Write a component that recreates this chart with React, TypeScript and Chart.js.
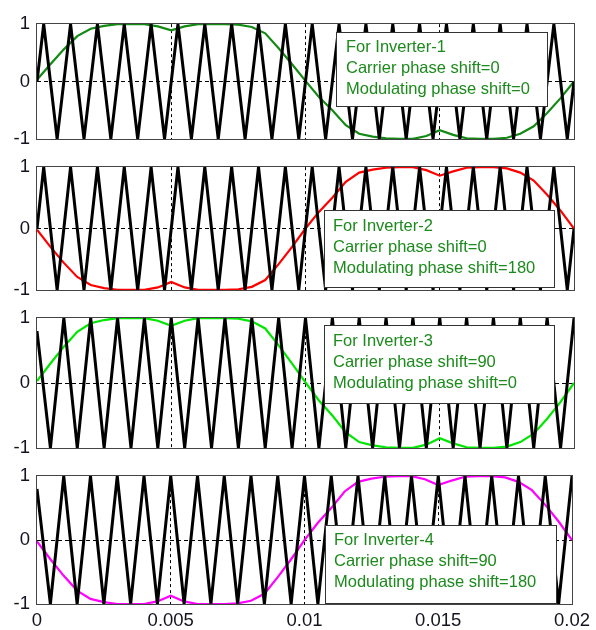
import React, { useEffect, useRef } from 'react';
import { Chart, registerables } from 'chart.js';

Chart.register(...registerables);

// ---------- data ----------
const modTimes = [
  0, 0.0005, 0.001, 0.0015, 0.002, 0.0025, 0.003, 0.0035, 0.004, 0.0045,
  0.005, 0.0055, 0.006, 0.0065, 0.007, 0.0075, 0.008, 0.0085, 0.009, 0.0095,
  0.01, 0.0105, 0.011, 0.0115, 0.012, 0.0125, 0.013, 0.0135, 0.014, 0.0145,
  0.015, 0.0155, 0.016, 0.0165, 0.017, 0.0175, 0.018, 0.0185, 0.019, 0.0195,
  0.02,
];

// modulating phase shift = 0
const modInverter1 = [
  0.03, 0.3, 0.56, 0.79, 0.92, 0.97, 1, 1, 1, 0.96,
  0.89, 0.96, 1, 1, 1, 0.99, 0.95, 0.84, 0.58, 0.3,
  0.01, -0.27, -0.5, -0.76, -0.91, -0.96, -0.99, -1, -1, -0.95,
  -0.85, -0.93, -0.99, -1, -1, -0.98, -0.91, -0.78, -0.55, -0.29,
  0,
];
// modulating phase shift = 180
const modInverter2 = [
  -0.02, -0.3, -0.56, -0.79, -0.92, -0.97, -1, -1, -1, -0.96,
  -0.87, -0.96, -1, -1, -1, -0.99, -0.95, -0.84, -0.58, -0.3,
  0, 0.27, 0.5, 0.76, 0.91, 0.96, 0.99, 1, 1, 0.95,
  0.86, 0.93, 0.99, 1, 1, 0.98, 0.91, 0.78, 0.55, 0.29,
  0,
];
const modInverter3 = [
  0.03, 0.3, 0.56, 0.79, 0.92, 0.97, 1, 1, 1, 0.96,
  0.88, 0.96, 1, 1, 1, 0.99, 0.95, 0.84, 0.58, 0.3,
  0.01, -0.27, -0.5, -0.76, -0.91, -0.96, -0.99, -1, -1, -0.95,
  -0.85, -0.93, -0.99, -1, -1, -0.98, -0.91, -0.78, -0.55, -0.29,
  0,
];
const modInverter4 = [
  -0.02, -0.3, -0.56, -0.79, -0.92, -0.97, -1, -1, -1, -0.96,
  -0.87, -0.96, -1, -1, -1, -0.99, -0.95, -0.84, -0.58, -0.3,
  0, 0.27, 0.5, 0.76, 0.91, 0.96, 0.99, 1, 1, 0.95,
  0.86, 0.93, 0.99, 1, 1, 0.98, 0.91, 0.78, 0.55, 0.29,
  0,
];

// carrier phase shift = 0 (triangle vertices)
const carrierTimesA = [
  0, 0.00025, 0.00075, 0.00125, 0.00175, 0.00225, 0.00275, 0.00325, 0.00375, 0.00425,
  0.00475, 0.00525, 0.00575, 0.00625, 0.00675, 0.00725, 0.00775, 0.00825, 0.00875, 0.00925,
  0.00975, 0.01025, 0.01075, 0.01125, 0.01175, 0.01225, 0.01275, 0.01325, 0.01375, 0.01425,
  0.01475, 0.01525, 0.01575, 0.01625, 0.01675, 0.01725, 0.01775, 0.01825, 0.01875, 0.01925,
  0.01975, 0.02,
];
const carrierValuesA = [
  0, 1, -1, 1, -1, 1, -1, 1, -1, 1,
  -1, 1, -1, 1, -1, 1, -1, 1, -1, 1,
  -1, 1, -1, 1, -1, 1, -1, 1, -1, 1,
  -1, 1, -1, 1, -1, 1, -1, 1, -1, 1,
  -1, 0,
];
// carrier phase shift = 90
const carrierTimesB = [
  0, 0.0005, 0.001, 0.0015, 0.002, 0.0025, 0.003, 0.0035, 0.004, 0.0045,
  0.005, 0.0055, 0.006, 0.0065, 0.007, 0.0075, 0.008, 0.0085, 0.009, 0.0095,
  0.01, 0.0105, 0.011, 0.0115, 0.012, 0.0125, 0.013, 0.0135, 0.014, 0.0145,
  0.015, 0.0155, 0.016, 0.0165, 0.017, 0.0175, 0.018, 0.0185, 0.019, 0.0195,
  0.02,
];
const carrierValuesB = [
  0.8, -1, 1, -1, 1, -1, 1, -1, 1, -1,
  1, -1, 1, -1, 1, -1, 1, -1, 1, -1,
  1, -1, 1, -1, 1, -1, 1, -1, 1, -1,
  1, -1, 1, -1, 1, -1, 1, -1, 1, -1,
  1,
];

const xTickValues = [0, 0.005, 0.01, 0.015, 0.02];
const xTickLabels = ['0', '0.005', '0.01', '0.015', '0.02'];
const yTickValues = [-1, 0, 1];
const yTickLabels = ['-1', '0', '1'];

const inverterNames = ['For Inverter-1', 'For Inverter-2', 'For Inverter-3', 'For Inverter-4'];
const carrierShifts = ['0', '0', '90', '90'];
const modulatingShifts = ['0', '180', '0', '180'];

// ---------- layout / style ----------
const W = 596;
const PAD = 14;
const FONT = '"Liberation Sans", Arial, Helvetica, sans-serif';

type PanelCfg = {
  plotTop: number;
  plotBottom: number;
  showX: boolean;
  carrierT: number[];
  carrierV: number[];
  mod: number[];
  color: string;
  box: { left: number; top: number; right: number; bottom: number; textX: number; firstLine: number };
  idx: number;
};

const panels: PanelCfg[] = [
  { plotTop: 20, plotBottom: 143, showX: false, carrierT: carrierTimesA, carrierV: carrierValuesA, mod: modInverter1, color: '#138a13',
    box: { left: 336, top: 32, right: 547, bottom: 106, textX: 346, firstLine: 47 }, idx: 0 },
  { plotTop: 163, plotBottom: 294, showX: false, carrierT: carrierTimesA, carrierV: carrierValuesA, mod: modInverter2, color: '#ff0000',
    box: { left: 324, top: 210, right: 554, bottom: 287, textX: 333, firstLine: 226 }, idx: 1 },
  { plotTop: 314, plotBottom: 452, showX: false, carrierT: carrierTimesB, carrierV: carrierValuesB, mod: modInverter3, color: '#00e600',
    box: { left: 324, top: 325, right: 554, bottom: 403, textX: 333, firstLine: 341 }, idx: 2 },
  { plotTop: 472, plotBottom: 604, showX: true, carrierT: carrierTimesB, carrierV: carrierValuesB, mod: modInverter4, color: '#ff00ff',
    box: { left: 325, top: 525, right: 556, bottom: 603, textX: 334, firstLine: 540 }, idx: 3 },
];

function Panel({ cfg }: { cfg: PanelCfg }) {
  const ref = useRef<HTMLCanvasElement>(null);
  const canvasTop = cfg.plotTop - PAD;
  const xHeight = cfg.showX ? 630 - cfg.plotBottom : 0;
  const H = cfg.showX ? 630 - canvasTop : cfg.plotBottom - cfg.plotTop + 2 * PAD;

  useEffect(() => {
    if (!ref.current) return;
    const lines = [
      inverterNames[cfg.idx],
      'Carrier phase shift=' + carrierShifts[cfg.idx],
      'Modulating phase shift=' + modulatingShifts[cfg.idx],
    ];
    const overlay = {
      id: 'frameAndBox',
      afterDraw(chart: any) {
        const { ctx, chartArea: a } = chart;
        ctx.save();
        ctx.strokeStyle = '#444';
        ctx.lineWidth = 1;
        ctx.setLineDash([]);
        ctx.strokeRect(Math.round(a.left) - 0.5, Math.round(a.top) - 0.5,
          Math.round(a.right) - Math.round(a.left) + 1, Math.round(a.bottom) - Math.round(a.top) + 1);
        const b = cfg.box;
        const top = b.top - canvasTop;
        ctx.fillStyle = '#ffffff';
        ctx.fillRect(b.left, top, b.right - b.left, b.bottom - b.top);
        ctx.strokeStyle = '#333';
        ctx.strokeRect(b.left + 0.5, top + 0.5, b.right - b.left, b.bottom - b.top);
        ctx.fillStyle = '#1c8a1c';
        ctx.font = '16.5px ' + FONT;
        ctx.textBaseline = 'middle';
        ctx.textAlign = 'left';
        lines.forEach((s, i) => {
          ctx.fillText(s, b.textX, b.firstLine - canvasTop + i * 21);
        });
        ctx.restore();
      },
    };

    const chart = new Chart(ref.current, {
      type: 'line',
      data: {
        datasets: [
          {
            label: 'carrier',
            data: cfg.carrierT.map((t, i) => ({ x: t, y: cfg.carrierV[i] })),
            borderColor: '#000000',
            borderWidth: 3,
            pointRadius: 0,
            tension: 0,
          },
          {
            label: 'modulating',
            data: modTimes.map((t, i) => ({ x: t, y: cfg.mod[i] })),
            borderColor: cfg.color,
            borderWidth: 2.2,
            pointRadius: 0,
            tension: 0,
          },
        ],
      },
      options: {
        animation: false,
        responsive: false,
        maintainAspectRatio: false,
        layout: {
          autoPadding: false,
          padding: { top: PAD, bottom: cfg.showX ? 0 : PAD, left: 0, right: W - 574 },
        },
        plugins: { legend: { display: false }, tooltip: { enabled: false } },
        scales: {
          x: {
            type: 'linear',
            min: 0,
            max: 0.02,
            afterBuildTicks: (s: any) => {
              s.ticks = xTickValues.map((v) => ({ value: v }));
            },
            afterFit: (s: any) => {
              s.height = xHeight;
            },
            ticks: {
              display: cfg.showX,
              padding: 6,
              color: '#141420',
              autoSkip: false,
              maxRotation: 0,
              font: { family: FONT, size: 18.5 },
              callback: (_v: any, i: number) => xTickLabels[i],
            },
            grid: {
              drawTicks: false,
              lineWidth: 1,
              color: (c: any) => (c.index > 0 && c.index < xTickValues.length - 1 ? '#000000' : 'rgba(0,0,0,0)'),
            },
            border: { display: false, dash: [3, 3] },
          },
          y: {
            type: 'linear',
            min: -1,
            max: 1,
            afterBuildTicks: (s: any) => {
              s.ticks = yTickValues.map((v) => ({ value: v }));
            },
            afterFit: (s: any) => {
              s.width = 37;
            },
            ticks: {
              padding: 7,
              color: '#141420',
              autoSkip: false,
              font: { family: FONT, size: 18.5 },
              callback: (_v: any, i: number) => yTickLabels[i],
            },
            grid: {
              drawTicks: false,
              lineWidth: 1,
              color: (c: any) => (c.index === 1 ? '#000000' : 'rgba(0,0,0,0)'),
            },
            border: { display: false, dash: [4, 3] },
          },
        },
      },
      plugins: [overlay],
    } as any);
    return () => chart.destroy();
  }, []);

  return (
    <canvas
      ref={ref}
      width={W}
      height={H}
      style={{ position: 'absolute', left: 0, top: canvasTop, width: W, height: H }}
    />
  );
}

export default function App() {
  return (
    <div style={{ position: 'absolute', left: 0, top: 0, width: W, height: 630, background: '#ffffff', overflow: 'hidden' }}>
      {panels.map((p) => (
        <Panel key={p.idx} cfg={p} />
      ))}
    </div>
  );
}
